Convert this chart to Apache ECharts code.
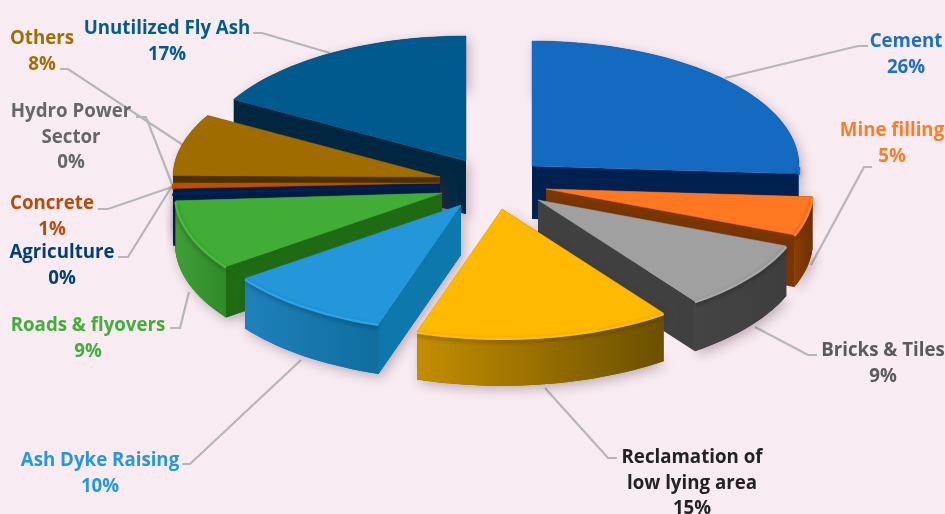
<!DOCTYPE html>
<html>
<head>
<meta charset="utf-8">
<title>Fly ash utilisation</title>
<style>
html, body { margin: 0; padding: 0; background: #f9ebf2; }
#main { width: 945px; height: 514px; }
</style>
<script src="https://cdn.jsdelivr.net/npm/echarts@6/dist/echarts.min.js"></script>
</head>
<body>
<div id="main"></div>
<script>
// clockwise from 12 o'clock
var categories = ['Cement', 'Mine filling', 'Bricks & Tiles', 'Reclamation of\nlow lying area', 'Ash Dyke Raising',
    'Roads & flyovers', 'Agriculture', 'Concrete', 'Hydro Power\nSector', 'Others', 'Unutilized Fly Ash'];
var values = [26, 5, 9, 15, 10, 9, 0.3, 0.7, 0.2, 8, 16.8];
var percentLabels = ['26%', '5%', '9%', '15%', '10%', '9%', '0%', '1%', '0%', '8%', '17%'];

// back slices first
var drawOrder = [10, 0, 8, 9, 7, 6, 5, 1, 2, 4, 3];

var topColors = ['#1469c0', '#ff7720', '#a0a0a0', '#ffb900', '#2397d9', '#41ad37', '#00245a', '#c04e00', '#777777', '#a06c00', '#005a8e'];
var wallColors = ['#002050', '#7a3500', '#404040', '#7a5a00', '#0d78ab', '#1f6b14', '#001c44', '#001c44', '#4a3100', '#4a3100', '#002640'];
var rimLeft = ['#0f4f96', '#8a3f00', '#444444', '#c48e00', '#1f80bb', '#3f9f36', '#001c44', '#001c44', '#4a3100', '#7d5500', '#00466e'];
var rimRight = ['#0f4f96', '#6e3000', '#3e3e3e', '#6b5000', '#0f6e9e', '#2f8a28', '#001c44', '#001c44', '#4a3100', '#7d5500', '#00466e'];
var bevelColors = ['#1469c0', '#ff8228', '#a8a8a8', '#ffbe00', '#2ea2e6', '#4cb841', '#00245a', '#c04e00', '#777777', '#a06c00', '#005a8e'];
var labelColors = ['#1b6fc6', '#ff7c20', '#5a5a5a', '#222222', '#2598da', '#42ae3a', '#003f7a', '#b84a0a', '#666666', '#a06e00', '#005b8f'];

// where each exploded slice has its apex
var apexes = [[532, 166], [546, 189], [538, 200], [502, 209], [461, 205], [442, 193], [440, 187], [440, 183], [440, 177], [440, 177], [466, 161]];
var sliceScale = [1, 1, 1, 1.03, 1, 1, 1, 1, 1, 1, 1];
var sliceDepth = [53, 52, 50, 48, 50, 51, 51, 51, 51, 51, 53];
var labelCenters = [[906, 42], [892, 131], [883, 351], [692, 458], [100, 461], [88, 326], [62, 253], [52, 204], [71, 112], [42, 39], [167, 29]];
var leaders = [
    [[725, 78], [858, 46], [868, 46]],
    [[811, 265], [864, 167], [872, 167]],
    [[755, 327], [808, 355], [817, 355]],
    [[545, 388], [608, 458], [617, 458]],
    [[301, 360], [190, 464], [182, 464]],
    [[189, 292], [180, 328], [170, 328]],
    [[172, 186], [128, 257], [118, 257]],
    [[172, 187], [108, 209], [98, 209]],
    [[172, 184], [146, 117], [136, 117]],
    [[183, 145], [68, 69], [60, 69]],
    [[330, 53], [262, 33], [253, 33]]
];

var RX = 267, RY = 125, LINE = 25.5;

var total = values.reduce(function (s, v) { return s + v; }, 0);
var angle = 0;
var sliceAngles = values.map(function (v) {
    var from = angle;
    angle += v / total * 360;
    return [from, angle];
});

function arcPoints(c, s, from, to) {
    var pts = [];
    var n = Math.max(2, Math.ceil((to - from) / 2));
    for (var i = 0; i <= n; i++) {
        var r = (from + (to - from) * i / n) * Math.PI / 180;
        pts.push([c[0] + s * RX * Math.sin(r), c[1] - s * RY * Math.cos(r)]);
    }
    return pts;
}

function shifted(pts, dy) {
    return pts.map(function (p) { return [p[0], p[1] + dy]; });
}

function renderSlice(params, api) {
    var k = api.value(0), from = api.value(1), to = api.value(2);
    var c = apexes[k], s = sliceScale[k], d = sliceDepth[k];
    var arc = arcPoints(c, s, from, to);
    var low = shifted(arc, d);
    var cLow = [c[0], c[1] + d];
    var p1 = arc[0], p2 = arc[arc.length - 1];

    var kids = [];
    // soft shadow under the whole body
    kids.push({
        type: 'polygon',
        shape: { points: [c].concat(arc, low.slice().reverse(), [cLow]) },
        style: { fill: wallColors[k], shadowBlur: 12, shadowColor: 'rgba(60,30,50,0.3)', shadowOffsetX: 3, shadowOffsetY: 4 }
    });
    kids.push({
        type: 'polygon',
        shape: { points: [c, p1, [p1[0], p1[1] + d], cLow] },
        style: { fill: wallColors[k] }
    });
    kids.push({
        type: 'polygon',
        shape: { points: [c, p2, [p2[0], p2[1] + d], cLow] },
        style: { fill: wallColors[k] }
    });
    // only the front half of the rim can be seen
    var f = Math.max(from, 90), t = Math.min(to, 270);
    if (t > f) {
        var front = arcPoints(c, s, f, t);
        kids.push({
            type: 'polygon',
            shape: { points: front.concat(shifted(front, d).reverse()) },
            style: {
                fill: {
                    type: 'linear', x: 0, y: 0, x2: 1, y2: 0,
                    colorStops: [{ offset: 0, color: rimLeft[k] }, { offset: 1, color: rimRight[k] }]
                }
            }
        });
    }
    kids.push({
        type: 'polygon',
        shape: { points: [c].concat(arc) },
        style: { fill: topColors[k], stroke: topColors[k], lineWidth: 0.5 }
    });
    // rounded front edge of the top face
    if (t > f) {
        kids.push({
            type: 'polyline',
            shape: { points: shifted(arcPoints(c, s, f, t), 1) },
            style: { fill: null, stroke: bevelColors[k], lineWidth: 2.5, shadowBlur: 4, shadowColor: 'rgba(0,0,0,0.35)', shadowOffsetY: 2 }
        });
    }
    return { type: 'group', children: kids };
}

var graphics = [];
leaders.forEach(function (pts) {
    graphics.push({
        type: 'polyline',
        shape: { points: pts },
        style: { fill: null, stroke: '#b6b6b6', lineWidth: 2.2 },
        silent: true
    });
});
categories.forEach(function (name, i) {
    graphics.push({
        type: 'text',
        x: labelCenters[i][0],
        y: labelCenters[i][1] - LINE / 2,
        z: 10,
        style: {
            text: name + '\n' + percentLabels[i],
            fill: labelColors[i],
            font: '700 18.7px "Open Sans", sans-serif',
            lineHeight: LINE,
            align: 'center',
            verticalAlign: 'top'
        }
    });
});

var chart = echarts.init(document.getElementById('main'), null, { renderer: 'canvas' });
chart.setOption({
    backgroundColor: '#f9ebf2',
    animation: false,
    graphic: { elements: graphics },
    series: [{
        type: 'custom',
        coordinateSystem: 'none',
        renderItem: renderSlice,
        silent: true,
        z: 5,
        data: drawOrder.map(function (k) {
            return [k, sliceAngles[k][0], sliceAngles[k][1]];
        })
    }]
});
</script>
</body>
</html>
